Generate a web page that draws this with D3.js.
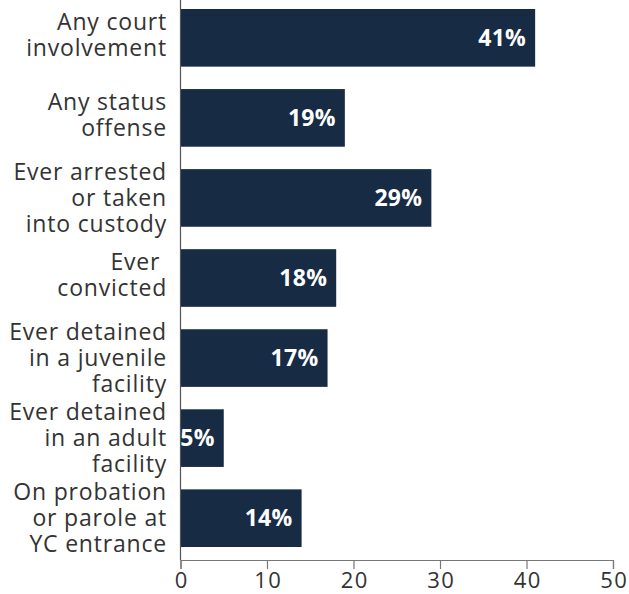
<!DOCTYPE html>
<html>
  <head>
  <title>Court involvement</title>
  <script src="https://d3js.org/d3.v7.min.js"></script>
  <style>
    body { margin: 0; }
    svg { display: block; }
  </style>
  </head>
  <body>
  <svg id="svg" width="629" height="594"></svg>
  </body>
</html>

<script>
  // one entry per bar, lines of the wrapped label
  const categories = [
    ["Any court", "involvement"],
    ["Any status", "offense"],
    ["Ever arrested", "or taken", "into custody"],
    ["Ever\u00a0", "convicted"],
    ["Ever detained", "in a juvenile", "facility"],
    ["Ever detained", "in an adult", "facility"],
    ["On probation", "or parole at", "YC entrance"]
  ];
  const values = [41, 19, 29, 18, 17, 5, 14];
  const ticks = [0, 10, 20, 30, 40, 50];

  const font = "'Open Sans', sans-serif";
  const svg = d3.select("#svg");
  const mLeft = 180.5, mRight = 613, mTop = 0, mBottom = 560;

  const x = d3.scaleLinear().domain([0, 50]).range([mLeft, mRight]);
  const y = d3.scaleBand()
    .domain(d3.range(values.length))
    .range([-3, mBottom - 1])
    .paddingInner(0.28)
    .paddingOuter(0.15);

  svg.selectAll("rect.bar")
    .data(values)
    .join("rect")
      .attr("class", "bar")
      .attr("x", x(0))
      .attr("y", (d, i) => y(i))
      .attr("width", d => x(d) - x(0))
      .attr("height", y.bandwidth())
      .attr("fill", "#172b45");

  svg.selectAll("text.val")
    .data(values)
    .join("text")
      .attr("class", "val")
      .attr("x", d => x(d) - 9)
      .attr("y", (d, i) => y(i) + y.bandwidth() / 2)
      .attr("dy", "0.36em")
      .attr("text-anchor", "end")
      .style("font-family", font)
      .style("font-weight", "bold")
      .style("font-size", "23px")
      .style("letter-spacing", "0.3px")
      .style("fill", "#fff")
      .text(d => d + "%");

  const lineH = 26;
  const labels = svg.selectAll("text.cat")
    .data(categories)
    .join("text")
      .attr("class", "cat")
      .attr("text-anchor", "end")
      .style("font-family", font)
      .style("font-size", "23px")
      .style("letter-spacing", "0.8px")
      .style("fill", "#333");

  labels.each(function(lines, i) {
    const cy = y(i) + y.bandwidth() / 2 - (lines.length === 2 ? 3 : 0);
    const start = cy - (lines.length - 1) * lineH / 2;
    d3.select(this).selectAll("tspan")
      .data(lines)
      .join("tspan")
        .attr("x", 167)
        .attr("y", (d, j) => start + j * lineH)
        .attr("dy", "0.36em")
        .text(d => d);
  });

  // axes
  const xAxis = svg.append("g")
    .attr("transform", `translate(0,${mBottom})`)
    .call(d3.axisBottom(x).tickValues(ticks).tickSize(9).tickPadding(3));
  xAxis.select(".domain").attr("stroke", "#777").attr("stroke-width", 1.2);
  xAxis.selectAll(".tick line").attr("stroke", "#777").attr("stroke-width", 1.2);
  xAxis.selectAll(".tick text")
    .attr("dx", "0.75px")
    .style("font-family", font)
    .style("font-size", "22px")
    .style("letter-spacing", "1.5px")
    .style("fill", "#333");

  svg.append("line")
    .attr("x1", mLeft).attr("x2", mLeft)
    .attr("y1", mTop).attr("y2", mBottom)
    .attr("stroke", "#555")
    .attr("stroke-width", 1.2);
</script>
